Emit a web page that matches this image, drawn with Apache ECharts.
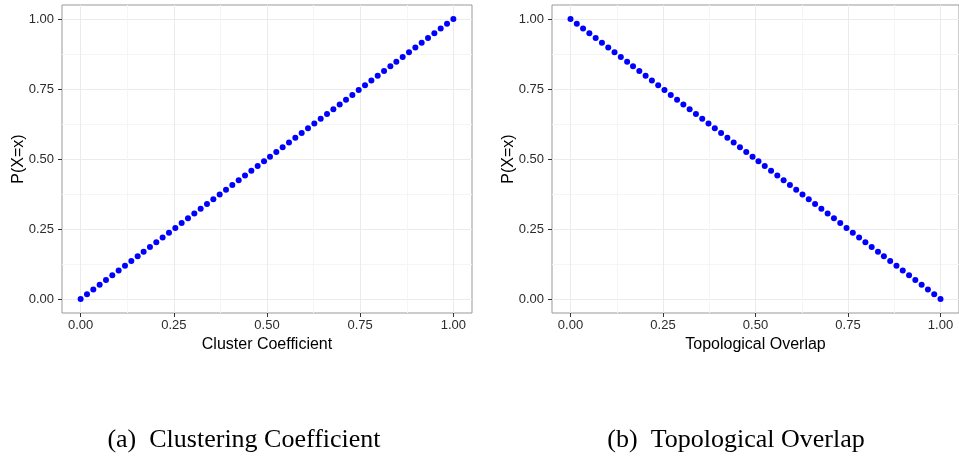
<!DOCTYPE html>
<html>
<head>
<meta charset="utf-8">
<script src="https://cdn.jsdelivr.net/npm/echarts@6/dist/echarts.min.js"></script>
<style>
html,body{margin:0;padding:0;background:#fff;}
#chart{width:959px;height:466px;}
</style>
</head>
<body>
<div id="chart"></div>
<script>
// ---- data ----
var clusterX = [0.000,0.017,0.034,0.051,0.068,0.085,0.102,0.119,0.136,0.153,0.169,0.186,0.203,0.220,0.237,0.254,0.271,0.288,0.305,0.322,0.339,0.356,0.373,0.390,0.407,0.424,0.441,0.458,0.475,0.492,0.508,0.525,0.542,0.559,0.576,0.593,0.610,0.627,0.644,0.661,0.678,0.695,0.712,0.729,0.746,0.763,0.780,0.797,0.814,0.831,0.847,0.864,0.881,0.898,0.915,0.932,0.949,0.966,0.983,1.000];
var clusterP = [0.000,0.017,0.034,0.051,0.068,0.085,0.102,0.119,0.136,0.153,0.169,0.186,0.203,0.220,0.237,0.254,0.271,0.288,0.305,0.322,0.339,0.356,0.373,0.390,0.407,0.424,0.441,0.458,0.475,0.492,0.508,0.525,0.542,0.559,0.576,0.593,0.610,0.627,0.644,0.661,0.678,0.695,0.712,0.729,0.746,0.763,0.780,0.797,0.814,0.831,0.847,0.864,0.881,0.898,0.915,0.932,0.949,0.966,0.983,1.000];
var overlapX = [0.000,0.017,0.034,0.051,0.068,0.085,0.102,0.119,0.136,0.153,0.169,0.186,0.203,0.220,0.237,0.254,0.271,0.288,0.305,0.322,0.339,0.356,0.373,0.390,0.407,0.424,0.441,0.458,0.475,0.492,0.508,0.525,0.542,0.559,0.576,0.593,0.610,0.627,0.644,0.661,0.678,0.695,0.712,0.729,0.746,0.763,0.780,0.797,0.814,0.831,0.847,0.864,0.881,0.898,0.915,0.932,0.949,0.966,0.983,1.000];
var overlapP = [1.000,0.983,0.966,0.949,0.932,0.915,0.898,0.881,0.864,0.847,0.831,0.814,0.797,0.780,0.763,0.746,0.729,0.712,0.695,0.678,0.661,0.644,0.627,0.610,0.593,0.576,0.559,0.542,0.525,0.508,0.492,0.475,0.458,0.441,0.424,0.407,0.390,0.373,0.356,0.339,0.322,0.305,0.288,0.271,0.254,0.237,0.220,0.203,0.186,0.169,0.153,0.136,0.119,0.102,0.085,0.068,0.051,0.034,0.017,0.000];
var majorTicks = [0, 0.25, 0.5, 0.75, 1];
var minorTicks = [0.125, 0.375, 0.625, 0.875];
var xNames = ['Cluster Coefficient', 'Topological Overlap'];
var yName = 'P(X=x)';
var captions = ['(a)  Clustering Coefficient', '(b)  Topological Overlap'];

// ---- chart ----
var chart = echarts.init(document.getElementById('chart'), null, {renderer: 'canvas'});
var lim = {min: -0.05, max: 1.05};
var labelColor = '#2b2b2b';
function fmt(v){ return v.toFixed(2); }

function majorX(g, name){
  return {
    type: 'value', gridIndex: g, position: 'bottom', min: lim.min, max: lim.max,
    axisLine: {show: false, onZero: false},
    axisTick: {show: true, length: 4, customValues: majorTicks, lineStyle: {color: '#333', width: 1}},
    axisLabel: {show: true, customValues: majorTicks, formatter: fmt, margin: 6, fontSize: 13, color: labelColor, fontFamily: 'Liberation Sans'},
    splitLine: {show: true, lineStyle: {color: '#EBEBEB', width: 1}},
    name: name, nameLocation: 'middle', nameGap: 20,
    nameTextStyle: {fontSize: 16, color: '#000', fontFamily: 'Liberation Sans'}
  };
}
function minorX(g){
  return {
    type: 'value', gridIndex: g, position: 'top', min: lim.min, max: lim.max,
    axisLine: {show: false, onZero: false},
    axisTick: {show: false, customValues: minorTicks},
    axisLabel: {show: false, customValues: minorTicks},
    splitLine: {show: true, lineStyle: {color: '#F5F5F5', width: 1}}
  };
}
function majorY(g){
  return {
    type: 'value', gridIndex: g, position: 'left', min: lim.min, max: lim.max,
    axisLine: {show: false, onZero: false},
    axisTick: {show: true, length: 4, customValues: majorTicks, lineStyle: {color: '#333', width: 1}},
    axisLabel: {show: true, customValues: majorTicks, formatter: fmt, margin: 8, fontSize: 13, color: labelColor, fontFamily: 'Liberation Sans'},
    splitLine: {show: true, lineStyle: {color: '#EBEBEB', width: 1}},
    name: yName, nameLocation: 'middle', nameGap: 35, nameRotate: 90, nameMoveOverlap: false,
    nameTextStyle: {fontSize: 16, color: '#000', fontFamily: 'Liberation Sans'}
  };
}
function minorY(g){
  return {
    type: 'value', gridIndex: g, position: 'right', min: lim.min, max: lim.max,
    axisLine: {show: false, onZero: false},
    axisTick: {show: false, customValues: minorTicks},
    axisLabel: {show: false, customValues: minorTicks},
    splitLine: {show: true, lineStyle: {color: '#F5F5F5', width: 1}}
  };
}

var captionStyle = {fontFamily: 'Liberation Serif', fontWeight: 'normal', fontSize: 26, color: '#000'};
var option = {
  backgroundColor: '#ffffff',
  animation: false,
  title: [
    {text: captions[0], left: 239, top: 422, textAlign: 'center', textStyle: captionStyle},
    {text: captions[1], left: 731, top: 422, textAlign: 'center', textStyle: captionStyle}
  ],
  grid: [
    {left: 62, top: 5, width: 410, height: 308, show: true, borderColor: '#999', borderWidth: 1, backgroundColor: 'transparent', containLabel: false},
    {left: 552, top: 5, width: 410, height: 308, show: true, borderColor: '#999', borderWidth: 1, backgroundColor: 'transparent', containLabel: false}
  ],
  xAxis: [minorX(0), majorX(0, xNames[0]), minorX(1), majorX(1, xNames[1])],
  yAxis: [minorY(0), majorY(0), minorY(1), majorY(1)],
  series: [
    {type: 'scatter', xAxisIndex: 1, yAxisIndex: 1, symbol: 'circle', symbolSize: 6,
     itemStyle: {color: '#0000FF', opacity: 1}, data: clusterX.map(function(x, i){ return [x, clusterP[i]]; })},
    {type: 'scatter', xAxisIndex: 3, yAxisIndex: 3, symbol: 'circle', symbolSize: 6,
     itemStyle: {color: '#0000FF', opacity: 1}, data: overlapX.map(function(x, i){ return [x, overlapP[i]]; })}
  ]
};
chart.setOption(option);
</script>
</body>
</html>
